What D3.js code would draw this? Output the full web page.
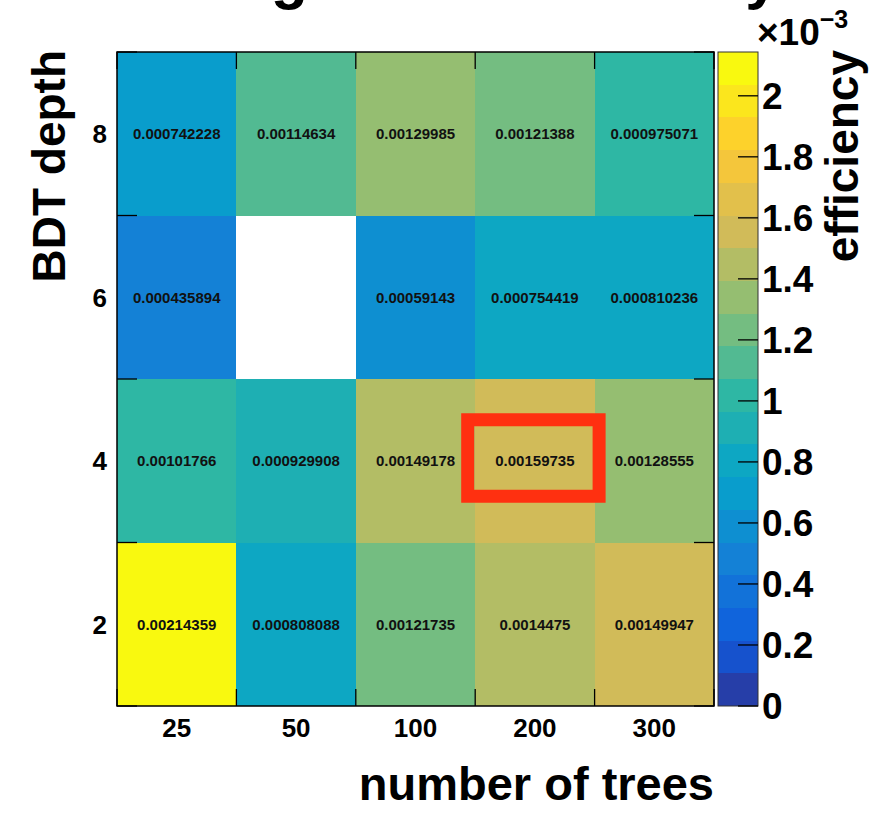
<!DOCTYPE html>
<html>
<head>
<meta charset="utf-8">
<script src="https://cdn.jsdelivr.net/npm/d3@7"></script>
<style>
  html, body { margin: 0; padding: 0; background: #fff; }
  svg { display: block; font-family: "Liberation Sans", Arial, Helvetica, sans-serif; font-weight: bold; }
</style>
</head>
<body>
<svg id="chart" width="869" height="813"></svg>
<script>
// Number of trees (x categories) and BDT depth (y categories)
const trees = ["25", "50", "100", "200", "300"];
const depths = ["2", "4", "6", "8"];

// Efficiency per depth row, one entry per tree count (null = empty bin)
const depth2 = [0.00214359, 0.000808088, 0.00121735, 0.0014475, 0.00149947];
const depth4 = [0.00101766, 0.000929908, 0.00149178, 0.00159735, 0.00128555];
const depth6 = [0.000435894, null, 0.00059143, 0.000754419, 0.000810236];
const depth8 = [0.000742228, 0.00114634, 0.00129985, 0.00121388, 0.000975071];

// Colour bar ticks, in units of 1e-3
const zTicks = [0, 0.2, 0.4, 0.6, 0.8, 1, 1.2, 1.4, 1.6, 1.8, 2];

// Highlighted bin
const highlight = { trees: "200", depth: "4" };

const rows = { "2": depth2, "4": depth4, "6": depth6, "8": depth8 };
const cells = [];
depths.forEach(d => rows[d].forEach((v, i) => {
  if (v != null) cells.push({ trees: trees[i], depth: d, value: v });
}));

// ---- "bird" palette, 255 colours built as a stepwise gradient table ----
const stops = [0.0000, 0.1250, 0.2500, 0.3750, 0.5000, 0.6250, 0.7500, 0.8750, 1.0000];
const red   = [0.2082, 0.0592, 0.0780, 0.0232, 0.1802, 0.5301, 0.8186, 0.9956, 0.9764];
const green = [0.1664, 0.3599, 0.5041, 0.6419, 0.7178, 0.7492, 0.7328, 0.7862, 0.9832];
const blue  = [0.5293, 0.8684, 0.8385, 0.7914, 0.6425, 0.4662, 0.3499, 0.1968, 0.0539];
const NCOL = 255;
const palette = [];
for (let g = 1; g < stops.length; g++) {
  const n = Math.floor(NCOL * stops[g]) - Math.floor(NCOL * stops[g - 1]);
  for (let c = 0; c < n; c++) {
    const r = red[g - 1] + c * (red[g] - red[g - 1]) / n;
    const gg = green[g - 1] + c * (green[g] - green[g - 1]) / n;
    const b = blue[g - 1] + c * (blue[g] - blue[g - 1]) / n;
    palette.push(d3.rgb(r * 255, gg * 255, b * 255).formatHex());
  }
}
while (palette.length < NCOL) palette.push(palette[palette.length - 1]);

const NDIV = 20;
const zmin = 0;
const zmax = d3.max(cells, d => d.value);
function levelColor(level) {
  let idx = Math.floor((level + 0.99) * NCOL / NDIV);
  if (idx > NCOL - 1) idx = NCOL - 1;
  return palette[idx];
}
function valueColor(v) {
  const level = Math.floor(0.01 + (v - zmin) * NDIV / (zmax - zmin));
  return levelColor(level);
}

// ---- layout ----
const frame = { left: 117, right: 714, top: 52, bottom: 706 };
const bar = { left: 718, right: 758 };

const svg = d3.select("#chart");

const x = d3.scaleBand().domain(trees).range([frame.left, frame.right]).padding(0);
const y = d3.scaleBand().domain(depths).range([frame.bottom, frame.top]).padding(0);
const z = d3.scaleLinear().domain([zmin, zmax]).range([frame.bottom, frame.top]);

// Title (sits above the top edge of the page, only descenders show)
svg.append("text")
  .attr("x", 452).attr("y", -3)
  .attr("text-anchor", "middle")
  .attr("font-size", 61)
  .text("Background efficiency");

// Cells
svg.append("g").selectAll("rect").data(cells).join("rect")
  .attr("x", d => x(d.trees))
  .attr("y", d => y(d.depth))
  .attr("width", x.bandwidth())
  .attr("height", y.bandwidth())
  .attr("fill", d => valueColor(d.value))
  .attr("shape-rendering", "crispEdges");

// Cell value labels
svg.append("g").selectAll("text").data(cells).join("text")
  .attr("x", d => x(d.trees) + x.bandwidth() / 2)
  .attr("y", d => y(d.depth) + y.bandwidth() / 2)
  .attr("dy", "0.36em")
  .attr("text-anchor", "middle")
  .attr("font-size", 15)
  .attr("fill", "#111")
  .text(d => String(d.value));

// Tick marks at bin edges on all four sides
const xEdges = trees.map(t => x(t)).concat([frame.right]);
const yEdges = depths.map(d => y(d) + y.bandwidth()).concat([frame.top]);
const ticks = svg.append("g").attr("stroke", "#000").attr("stroke-width", 1.3);
xEdges.forEach(px => {
  ticks.append("line").attr("x1", px).attr("x2", px).attr("y1", frame.bottom).attr("y2", frame.bottom - 17);
  ticks.append("line").attr("x1", px).attr("x2", px).attr("y1", frame.top).attr("y2", frame.top + 17);
});
yEdges.forEach(py => {
  ticks.append("line").attr("x1", frame.left).attr("x2", frame.left + 20).attr("y1", py).attr("y2", py);
  ticks.append("line").attr("x1", frame.right).attr("x2", frame.right - 20).attr("y1", py).attr("y2", py);
});

// Frame
svg.append("rect")
  .attr("x", frame.left).attr("y", frame.top)
  .attr("width", frame.right - frame.left).attr("height", frame.bottom - frame.top)
  .attr("fill", "none").attr("stroke", "#000").attr("stroke-width", 1.5);

// Axis labels
svg.append("g").selectAll("text").data(trees).join("text")
  .attr("x", d => x(d) + x.bandwidth() / 2)
  .attr("y", 737)
  .attr("text-anchor", "middle")
  .attr("font-size", 26)
  .text(d => d);

svg.append("g").selectAll("text").data(depths).join("text")
  .attr("x", 107)
  .attr("y", d => y(d) + y.bandwidth() / 2)
  .attr("dy", "0.36em")
  .attr("text-anchor", "end")
  .attr("font-size", 26)
  .text(d => d);

// Axis titles
svg.append("text")
  .attr("x", frame.right).attr("y", 800)
  .attr("text-anchor", "end")
  .attr("font-size", 47)
  .text("number of trees");

svg.append("text")
  .attr("transform", `translate(65,${frame.top - 2}) rotate(-90)`)
  .attr("text-anchor", "end")
  .attr("font-size", 46)
  .text("BDT depth");

// Highlight box around the chosen bin
const hx = x(highlight.trees), hy = y(highlight.depth) + y.bandwidth() / 2;
svg.append("rect")
  .attr("x", hx - 7.5)
  .attr("y", hy - 41)
  .attr("width", x.bandwidth() + 12)
  .attr("height", 76.5)
  .attr("fill", "none")
  .attr("stroke", "#ff3010")
  .attr("stroke-width", 13);

// ---- colour bar ----
const levels = d3.range(NDIV);
const step = (zmax - zmin) / NDIV;
svg.append("g").selectAll("rect").data(levels).join("rect")
  .attr("x", bar.left)
  .attr("width", bar.right - bar.left)
  .attr("y", i => z(zmin + (i + 1) * step))
  .attr("height", i => z(zmin + i * step) - z(zmin + (i + 1) * step))
  .attr("fill", i => levelColor(i))
  .attr("shape-rendering", "crispEdges");

svg.append("rect")
  .attr("x", bar.left).attr("y", frame.top)
  .attr("width", bar.right - bar.left).attr("height", frame.bottom - frame.top)
  .attr("fill", "none").attr("stroke", "#333").attr("stroke-width", 1);

const zAxis = svg.append("g");
zAxis.selectAll("line").data(zTicks).join("line")
  .attr("x1", bar.right - 20).attr("x2", bar.right)
  .attr("y1", t => z(t * 1e-3)).attr("y2", t => z(t * 1e-3))
  .attr("stroke", "#000").attr("stroke-width", 1.3);
zAxis.selectAll("text").data(zTicks).join("text")
  .attr("x", 762)
  .attr("y", t => z(t * 1e-3))
  .attr("dy", "0.36em")
  .attr("font-size", 37)
  .text(t => d3.format("~g")(t));

// Exponent label
const expo = svg.append("text").attr("x", 757).attr("y", 45).attr("font-size", 37);
expo.append("tspan").text("\u00d710");
expo.append("tspan").attr("dy", -17).attr("font-size", 25).text("\u22123");

svg.append("text")
  .attr("transform", `translate(858,${frame.top - 2}) rotate(-90)`)
  .attr("text-anchor", "end")
  .attr("font-size", 46)
  .text("efficiency");
</script>
</body>
</html>
